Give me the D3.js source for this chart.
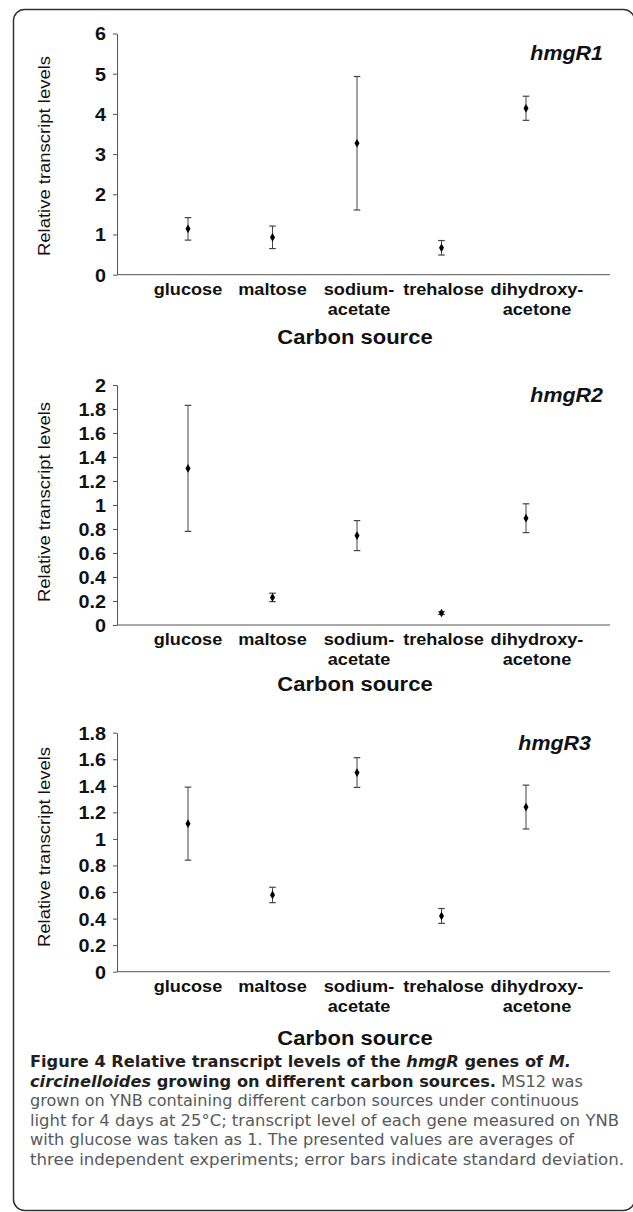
<!DOCTYPE html>
<html>
<head>
<meta charset="utf-8">
<script src="https://cdn.jsdelivr.net/npm/d3@7"></script>
<style>
  body { margin: 0; background: #fff; }
  svg { display: block; }
  .chart text { font-family: "Liberation Sans", Arial, sans-serif; fill: #111; }
  .caption text { font-family: "DejaVu Sans", sans-serif; font-stretch: condensed; font-size: 15.5px; }
</style>
</head>
<body>
<svg id="fig" width="633" height="1212"></svg>
<script>
// categories on the x axis (two-line labels as printed)
const categories = ["glucose", "maltose", "sodium-acetate", "trehalose", "dihydroxy-acetone"];
const categoryLines = [["glucose"], ["maltose"], ["sodium-", "acetate"], ["trehalose"], ["dihydroxy-", "acetone"]];

// relative transcript levels (mean) and standard deviation
const hmgR1_mean = [1.14, 0.93, 3.27, 0.67, 4.14];
const hmgR1_sd   = [0.28, 0.28, 1.66, 0.18, 0.30];
const hmgR2_mean = [1.305, 0.23, 0.745, 0.10, 0.89];
const hmgR2_sd   = [0.525, 0.035, 0.125, 0.012, 0.12];
const hmgR3_mean = [1.115, 0.578, 1.50, 0.42, 1.24];
const hmgR3_sd   = [0.275, 0.058, 0.112, 0.056, 0.165];

const hmgR1_ticks = ["0", "1", "2", "3", "4", "5", "6"];
const hmgR2_ticks = ["0", "0.2", "0.4", "0.6", "0.8", "1", "1.2", "1.4", "1.6", "1.8", "2"];
const hmgR3_ticks = ["0", "0.2", "0.4", "0.6", "0.8", "1", "1.2", "1.4", "1.6", "1.8"];

const yTitle = "Relative transcript levels";
const xTitle = "Carbon source";

// caption, line by line, as [text, style] pieces
const captionLines = [
  [["Figure 4 Relative transcript levels of the ", "b"], ["hmgR", "bi"], [" genes of ", "b"], ["M.", "bi"]],
  [["circinelloides", "bi"], [" growing on different carbon sources.", "b"], [" MS12 was", "n"]],
  [["grown on YNB containing different carbon sources under continuous", "n"]],
  [["light for 4 days at 25\u00b0C; transcript level of each gene measured on YNB", "n"]],
  [["with glucose was taken as 1. The presented values are averages of", "n"]],
  [["three independent experiments; error bars indicate standard deviation.", "n"]]
];

const svg = d3.select("#fig");

// outer rounded frame (right and bottom edges run off the picture)
svg.append("rect")
  .attr("x", 13.5).attr("y", 9.5)
  .attr("width", 621).attr("height", 1201)
  .attr("rx", 11)
  .attr("fill", "none")
  .attr("stroke", "#333")
  .attr("stroke-width", 1.5);

// widen the chart text a bit, the original font runs wider than Arial
function widen(sel, k) {
  sel.each(function() {
    const w = this.getComputedTextLength();
    d3.select(this).attr("textLength", w * k).attr("lengthAdjust", "spacingAndGlyphs");
  });
}

const panels = [
  {name: "hmgR1", mean: hmgR1_mean, sd: hmgR1_sd, ticks: hmgR1_ticks, max: 6,   top: 33.5,  bottom: 274.7, xTitleY: 344,  nameY: 60,  nameX: 603, yMid: 156},
  {name: "hmgR2", mean: hmgR2_mean, sd: hmgR2_sd, ticks: hmgR2_ticks, max: 2,   top: 385,   bottom: 625,   xTitleY: 691,  nameY: 402, nameX: 603, yMid: 502},
  {name: "hmgR3", mean: hmgR3_mean, sd: hmgR3_sd, ticks: hmgR3_ticks, max: 1.8, top: 732.7, bottom: 971.7, xTitleY: 1045, nameY: 750, nameX: 591, yMid: 847}
];

const axisLeftX = 117, axisRightX = 610;
const labelNudge = [0, 0, 2, 2, 11];
const k = 1.1;

const x = d3.scalePoint().domain(categories).range([188, 526]);

panels.forEach(p => {
  const g = svg.append("g").attr("class", "chart");
  const y = d3.scaleLinear().domain([0, p.max]).range([p.bottom, p.top]);

  // y axis
  const ya = g.append("g")
    .attr("transform", "translate(" + axisLeftX + ",0)")
    .call(d3.axisLeft(y).tickValues(p.ticks.map(Number)).tickSize(4).tickSizeOuter(0).tickPadding(7)
      .tickFormat((d, i) => p.ticks[i]));
  ya.select(".domain").attr("stroke", "#555");
  ya.selectAll(".tick line").attr("stroke", "#555");
  ya.selectAll(".tick text")
    .attr("font-family", "Liberation Sans, Arial, sans-serif")
    .attr("font-size", 18).attr("font-weight", "bold").attr("fill", "#111")
    .attr("dy", "0.36em")
    .call(widen, k);

  // x axis line
  g.append("line")
    .attr("x1", axisLeftX).attr("x2", axisRightX)
    .attr("y1", y(0)).attr("y2", y(0))
    .attr("stroke", "#555");

  // category labels
  categoryLines.forEach((lines, i) => {
    lines.forEach((t, j) => {
      g.append("text")
        .attr("x", x(categories[i]) + labelNudge[i])
        .attr("y", p.bottom + 20 + j * 20)
        .attr("text-anchor", "middle")
        .attr("font-size", 16.5).attr("font-weight", "bold")
        .text(t)
        .call(widen, k);
    });
  });

  // x title
  g.append("text")
    .attr("x", 355).attr("y", p.xTitleY)
    .attr("text-anchor", "middle")
    .attr("font-size", 20).attr("font-weight", "bold")
    .text(xTitle)
    .call(widen, k);

  // y title
  g.append("text")
    .attr("transform", "translate(50," + p.yMid + ") rotate(-90)")
    .attr("text-anchor", "middle")
    .attr("font-size", 16).attr("fill", "#222")
    .attr("textLength", 200).attr("lengthAdjust", "spacingAndGlyphs")
    .text(yTitle);

  // gene name
  g.append("text")
    .attr("x", p.nameX).attr("y", p.nameY)
    .attr("text-anchor", "end")
    .attr("font-size", 19.5).attr("font-weight", "bold").attr("font-style", "italic")
    .text(p.name)
    .call(widen, k);

  // error bars
  const bars = g.selectAll(".err").data(categories).enter().append("g").attr("class", "err");
  bars.append("line")
    .attr("x1", d => x(d)).attr("x2", d => x(d))
    .attr("y1", (d, i) => y(p.mean[i] + p.sd[i]))
    .attr("y2", (d, i) => y(p.mean[i] - p.sd[i]))
    .attr("stroke", "#444").attr("stroke-width", 1);
  [1, -1].forEach(s => {
    bars.append("line")
      .attr("x1", d => x(d) - 3.3).attr("x2", d => x(d) + 3.3)
      .attr("y1", (d, i) => y(p.mean[i] + s * p.sd[i]))
      .attr("y2", (d, i) => y(p.mean[i] + s * p.sd[i]))
      .attr("stroke", "#444").attr("stroke-width", 1.2);
  });

  // mean markers (diamonds)
  g.selectAll(".pt").data(categories).enter().append("path")
    .attr("class", "pt")
    .attr("transform", (d, i) => "translate(" + x(d) + "," + y(p.mean[i]) + ")")
    .attr("d", d3.symbol(d3.symbolDiamond, 22))
    .attr("fill", "#000");
});

// caption
const capWidths = [541, 553, 549, 589, 544, 594];
const cap = svg.append("g").attr("class", "caption");
captionLines.forEach((line, i) => {
  const t = cap.append("text")
    .attr("x", 30)
    .attr("y", 1067 + i * 19.5);
  line.forEach(([s, st]) => {
    t.append("tspan")
      .attr("font-weight", st === "n" ? 400 : 700)
      .attr("font-style", st === "bi" ? "italic" : "normal")
      .attr("fill", st === "n" ? "#58595b" : "#231f20")
      .text(s);
  });
  t.attr("textLength", capWidths[i]).attr("lengthAdjust", "spacingAndGlyphs");
});
</script>
</body>
</html>
